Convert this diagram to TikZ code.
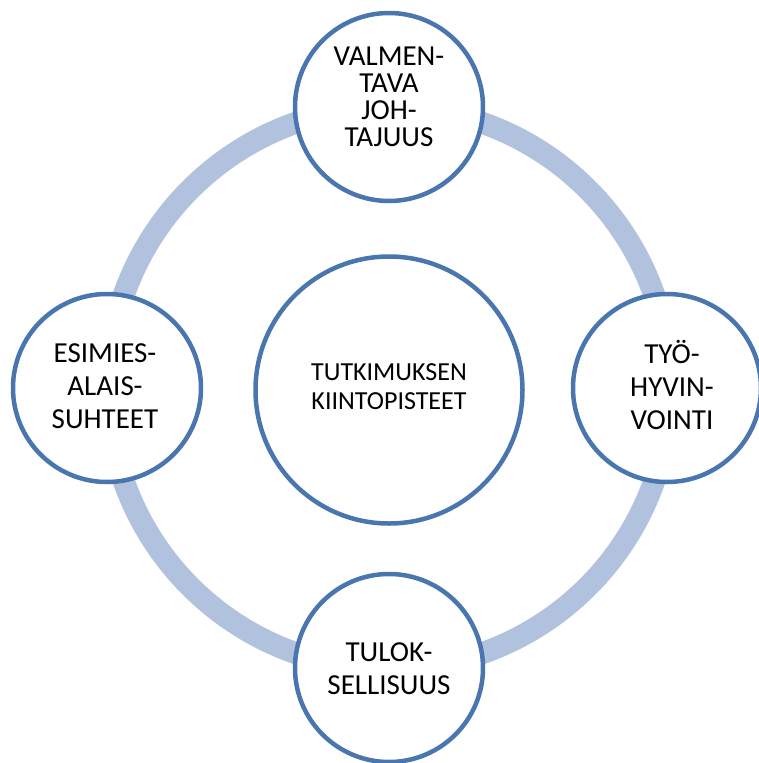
\documentclass[tikz,border=0pt]{standalone}
\usepackage{fontspec}
\setmainfont{Carlito}
\definecolor{ringc}{HTML}{B1C2DE}
\definecolor{edgec}{HTML}{4A76B0}
\tikzset{
  ringstyle/.style={draw=ringc, line width=22pt},
  smallc/.style={circle, draw=edgec, fill=white, line width=4.5pt, minimum size=188pt, inner sep=0pt},
  bigc/.style={circle, draw=edgec, fill=white, line width=4.5pt, minimum size=267pt, inner sep=0pt},
  outtext/.style={align=center, font=\fontsize{29}{33}\selectfont, inner sep=0pt},
  toptext/.style={align=center, font=\fontsize{29}{27}\selectfont, inner sep=0pt},
  midtext/.style={align=center, font=\fontsize{26}{29}\selectfont, inner sep=0pt}
}
\begin{document}
\begin{tikzpicture}[x=1pt,y=-1pt]
\useasboundingbox (0,0) rectangle (759,763);
\clip (0,0) rectangle (759,763);
\coordinate (ringcenter) at (389,388);
\draw[ringstyle] (ringcenter) circle[radius=281pt];
\node[smallc] (top) at (389,107) {};
\node[smallc] (left) at (107,388) {};
\node[smallc] (right) at (667,388) {};
\node[smallc] (bottom) at (389,668) {};
\node[bigc] (center) at (389,390) {};
\node[toptext] (toplabel) at (389,97) {VALMEN-\\TAVA\\JOH-\\TAJUUS};
\node[outtext] (leftlabel) at (105,386) {ESIMIES-\\ALAIS-\\SUHTEET};
\node[outtext] (rightlabel) at (672,385) {TYÖ-\\HYVIN-\\VOINTI};
\node[outtext] (bottomlabel) at (389,669) {TULOK-\\SELLISUUS};
\node[midtext] (centerlabel) at (389,387) {TUTKIMUKSEN\\KIINTOPISTEET};
\end{tikzpicture}
\end{document}
